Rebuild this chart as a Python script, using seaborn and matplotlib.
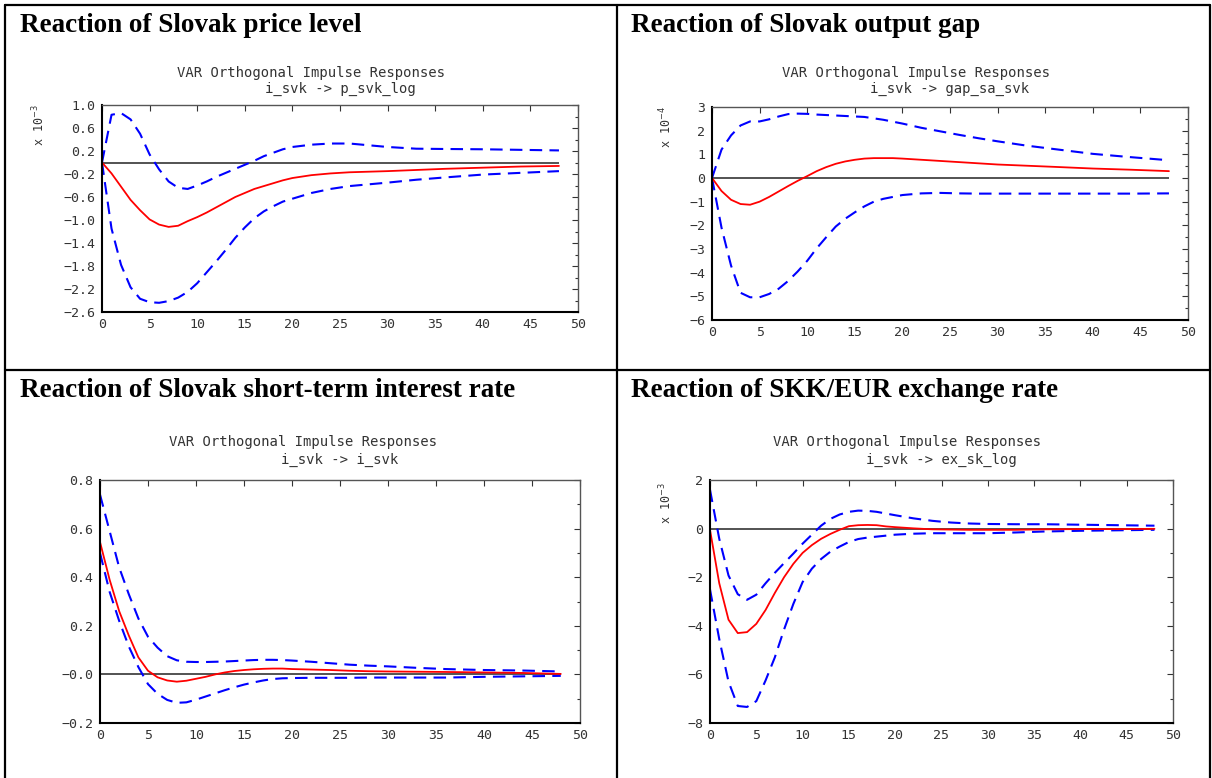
"""
Impulse responses to a Slovak interest rate shock (VAR, orthogonal).
"""
import matplotlib
matplotlib.use("Agg")
import matplotlib.pyplot as plt
from matplotlib.lines import Line2D
from matplotlib.ticker import FixedLocator, FixedFormatter, MultipleLocator
import seaborn as sns

horizon = [0, 1, 2, 3, 4, 5, 6, 7, 8, 9, 10, 11, 12, 13, 14, 15, 16, 17, 18, 19, 20,
           22, 24, 26, 28, 30, 33, 36, 40, 44, 48]

# price level, x 10^-3
price_resp = [0.0, -0.19, -0.42, -0.65, -0.83, -0.99, -1.08, -1.12, -1.10, -1.02, -0.95,
              -0.87, -0.78, -0.69, -0.60, -0.53, -0.46, -0.41, -0.36, -0.31, -0.27,
              -0.22, -0.19, -0.17, -0.16, -0.15, -0.13, -0.11, -0.09, -0.07, -0.06]
price_upper = [0.0, 0.83, 0.86, 0.75, 0.50, 0.14, -0.12, -0.33, -0.44, -0.46, -0.40,
               -0.33, -0.25, -0.18, -0.11, -0.04, 0.03, 0.11, 0.17, 0.23, 0.27,
               0.31, 0.33, 0.33, 0.30, 0.27, 0.24, 0.235, 0.23, 0.22, 0.21]
price_lower = [0.0, -1.15, -1.78, -2.17, -2.37, -2.43, -2.44, -2.41, -2.35, -2.25, -2.10,
               -1.91, -1.72, -1.52, -1.31, -1.13, -0.97, -0.85, -0.76, -0.68, -0.63,
               -0.53, -0.46, -0.41, -0.38, -0.35, -0.30, -0.26, -0.21, -0.18, -0.15]

# output gap, x 10^-4
gap_resp = [0.0, -0.55, -0.92, -1.10, -1.13, -1.00, -0.80, -0.57, -0.34, -0.12, 0.08,
            0.29, 0.46, 0.60, 0.70, 0.77, 0.82, 0.84, 0.84, 0.84, 0.82,
            0.77, 0.72, 0.67, 0.62, 0.57, 0.52, 0.47, 0.40, 0.35, 0.29]
gap_upper = [0.0, 1.20, 1.80, 2.22, 2.39, 2.39, 2.48, 2.60, 2.70, 2.72, 2.71,
             2.68, 2.66, 2.64, 2.62, 2.60, 2.58, 2.52, 2.46, 2.38, 2.30,
             2.12, 1.97, 1.82, 1.68, 1.55, 1.37, 1.22, 1.02, 0.88, 0.75]
gap_lower = [0.0, -2.10, -3.70, -4.85, -5.04, -5.04, -4.90, -4.68, -4.35, -3.95, -3.50,
             -2.97, -2.50, -2.05, -1.72, -1.45, -1.20, -1.00, -0.88, -0.80, -0.72,
             -0.65, -0.63, -0.65, -0.66, -0.66, -0.66, -0.66, -0.66, -0.66, -0.65]

# short-term interest rate
rate_resp = [0.545, 0.39, 0.26, 0.16, 0.07, 0.015, -0.012, -0.025, -0.030, -0.026, -0.018,
             -0.010, 0.000, 0.008, 0.014, 0.018, 0.021, 0.023, 0.024, 0.024, 0.022,
             0.020, 0.018, 0.015, 0.013, 0.012, 0.011, 0.010, 0.008, 0.006, 0.002]
rate_upper = [0.74, 0.59, 0.44, 0.33, 0.23, 0.155, 0.11, 0.075, 0.058, 0.052, 0.051,
              0.051, 0.052, 0.053, 0.055, 0.057, 0.059, 0.060, 0.060, 0.059, 0.057,
              0.052, 0.046, 0.040, 0.036, 0.033, 0.027, 0.022, 0.018, 0.016, 0.012]
rate_lower = [0.50, 0.34, 0.22, 0.115, 0.03, -0.04, -0.08, -0.105, -0.117, -0.115, -0.104,
              -0.091, -0.078, -0.065, -0.053, -0.042, -0.033, -0.025, -0.019, -0.016, -0.015,
              -0.014, -0.014, -0.014, -0.013, -0.013, -0.013, -0.013, -0.010, -0.008, -0.006]

# SKK/EUR exchange rate, x 10^-3
fx_resp = [-0.05, -2.25, -3.75, -4.30, -4.26, -3.92, -3.35, -2.65, -2.00, -1.45, -1.00,
           -0.68, -0.42, -0.22, -0.05, 0.10, 0.14, 0.15, 0.14, 0.09, 0.06,
           0.01, -0.03, -0.04, -0.05, -0.05, -0.05, -0.03, -0.02, -0.02, -0.01]
fx_upper = [1.60, -0.42, -1.93, -2.70, -2.93, -2.72, -2.25, -1.82, -1.42, -1.03, -0.62,
            -0.25, 0.12, 0.40, 0.58, 0.69, 0.74, 0.73, 0.69, 0.62, 0.55,
            0.42, 0.32, 0.25, 0.21, 0.19, 0.18, 0.18, 0.16, 0.14, 0.12]
fx_lower = [-2.50, -4.55, -6.30, -7.30, -7.34, -7.10, -6.25, -5.30, -4.15, -3.10, -2.20,
            -1.65, -1.25, -0.95, -0.74, -0.55, -0.43, -0.37, -0.33, -0.29, -0.25,
            -0.21, -0.19, -0.19, -0.19, -0.19, -0.16, -0.12, -0.09, -0.07, -0.05]

x_ticks = [0, 5, 10, 15, 20, 25, 30, 35, 40, 45, 50]

price_ticks = [1.0, 0.6, 0.2, -0.2, -0.6, -1.0, -1.4, -1.8, -2.2, -2.6]
price_labels = ["1.0", "0.6", "0.2", "\u22120.2", "\u22120.6", "\u22121.0", "\u22121.4",
                "\u22121.8", "\u22122.2", "\u22122.6"]
gap_ticks = [3, 2, 1, 0, -1, -2, -3, -4, -5, -6]
gap_labels = ["3", "2", "1", "0", "\u22121", "\u22122", "\u22123", "\u22124", "\u22125", "\u22126"]
rate_ticks = [0.8, 0.6, 0.4, 0.2, 0.0, -0.2]
rate_labels = ["0.8", "0.6", "0.4", "0.2", "\u22120.0", "\u22120.2"]
fx_ticks = [2, 0, -2, -4, -6, -8]
fx_labels = ["2", "0", "\u22122", "\u22124", "\u22126", "\u22128"]

W, H = 1212, 778

sns.set_theme(style="white")
plt.rcParams["font.family"] = ["DejaVu Sans Mono", "DejaVu Sans"]

fig = plt.figure(figsize=(W / 100, H / 100), dpi=100)
fig.patch.set_facecolor("white")


def px_rect(left, top, right, bottom):
    return [left / W, 1 - bottom / H, (right - left) / W, (bottom - top) / H]


panels = [
    dict(title="Reaction of Slovak price level", title_xy=(20, 32),
         target="p_svk_log", sub1_xy=(311, 73), sub2_xy=(340, 89),
         unit="x 10$^{-3}$", unit_xy=(39, 125),
         rect=px_rect(102, 105, 578, 312), ylim=(-2.6, 1.0),
         ticks=price_ticks, labels=price_labels, minor=0.2,
         resp=price_resp, upper=price_upper, lower=price_lower),
    dict(title="Reaction of Slovak output gap", title_xy=(631, 32),
         target="gap_sa_svk", sub1_xy=(916, 73), sub2_xy=(950, 89),
         unit="x 10$^{-4}$", unit_xy=(666, 127),
         rect=px_rect(712, 107, 1188, 320), ylim=(-6, 3),
         ticks=gap_ticks, labels=gap_labels, minor=0.5,
         resp=gap_resp, upper=gap_upper, lower=gap_lower),
    dict(title="Reaction of Slovak short-term interest rate", title_xy=(20, 397),
         target="i_svk", sub1_xy=(303, 442), sub2_xy=(340, 460),
         unit=None, unit_xy=None,
         rect=px_rect(100, 480, 580, 723), ylim=(-0.2, 0.8),
         ticks=rate_ticks, labels=rate_labels, minor=0.1,
         resp=rate_resp, upper=rate_upper, lower=rate_lower),
    dict(title="Reaction of SKK/EUR exchange rate", title_xy=(631, 397),
         target="ex_sk_log", sub1_xy=(907, 442), sub2_xy=(941, 460),
         unit="x 10$^{-3}$", unit_xy=(666, 503),
         rect=px_rect(710, 480, 1173, 723), ylim=(-8, 2),
         ticks=fx_ticks, labels=fx_labels, minor=1.0,
         resp=fx_resp, upper=fx_upper, lower=fx_lower),
]

text_col = "#333333"

for p in panels:
    ax = fig.add_axes(p["rect"])
    ax.set_facecolor("white")

    ax.hlines(0, horizon[0], horizon[-1], color="#444444", lw=1.3, zorder=1)
    sns.lineplot(x=horizon, y=p["upper"], ax=ax, color="#0000ff", lw=1.5,
                 linestyle=(0, (6, 3.5)), estimator=None, errorbar=None)
    sns.lineplot(x=horizon, y=p["lower"], ax=ax, color="#0000ff", lw=1.5,
                 linestyle=(0, (6, 3.5)), estimator=None, errorbar=None)
    sns.lineplot(x=horizon, y=p["resp"], ax=ax, color="#ff0000", lw=1.3,
                 estimator=None, errorbar=None)

    ax.set_xlim(0, 50)
    ax.set_ylim(*p["ylim"])
    ax.set_xlabel("")
    ax.set_ylabel("")
    ax.xaxis.set_major_locator(FixedLocator(x_ticks))
    ax.yaxis.set_major_locator(FixedLocator(p["ticks"]))
    ax.yaxis.set_major_formatter(FixedFormatter(p["labels"]))
    ax.yaxis.set_minor_locator(MultipleLocator(p["minor"]))
    ax.tick_params(which="both", direction="in", top=True, right=True,
                   labeltop=False, labelright=False, colors="#333333",
                   labelcolor=text_col, labelsize=9.5)
    ax.tick_params(which="major", length=4, width=0.8)
    ax.tick_params(which="minor", length=2.5, width=0.8)
    ax.tick_params(axis="y", pad=5)
    ax.tick_params(axis="x", pad=4)

    for side in ["left", "bottom"]:
        ax.spines[side].set_color("black")
        ax.spines[side].set_linewidth(1.5)
    for side in ["top", "right"]:
        ax.spines[side].set_color("#555555")
        ax.spines[side].set_linewidth(1.0)

    fig.text(p["sub1_xy"][0] / W, 1 - p["sub1_xy"][1] / H,
             "VAR Orthogonal Impulse Responses", ha="center", va="center",
             fontsize=10, color=text_col)
    fig.text(p["sub2_xy"][0] / W, 1 - p["sub2_xy"][1] / H,
             "i_svk -> " + p["target"], ha="center", va="center",
             fontsize=10, color=text_col)
    if p["unit"]:
        fig.text(p["unit_xy"][0] / W, 1 - p["unit_xy"][1] / H, p["unit"],
                 rotation=90, ha="center", va="center", fontsize=8.5,
                 color=text_col)

    fig.text(p["title_xy"][0] / W, 1 - p["title_xy"][1] / H, p["title"],
             ha="left", va="baseline", fontsize=19.5, fontweight="bold",
             family="Liberation Serif", color="black")

# table grid around the four panels
grid_kw = dict(color="black", lw=1.6, transform=fig.transFigure)
for y in [5, 370]:
    fig.add_artist(Line2D([5 / W, 1210 / W], [1 - y / H, 1 - y / H], **grid_kw))
for x in [5, 617, 1210]:
    fig.add_artist(Line2D([x / W, x / W], [1 - 5 / H, 0], **grid_kw))

fig.savefig("out.png", dpi=100, facecolor="white")
